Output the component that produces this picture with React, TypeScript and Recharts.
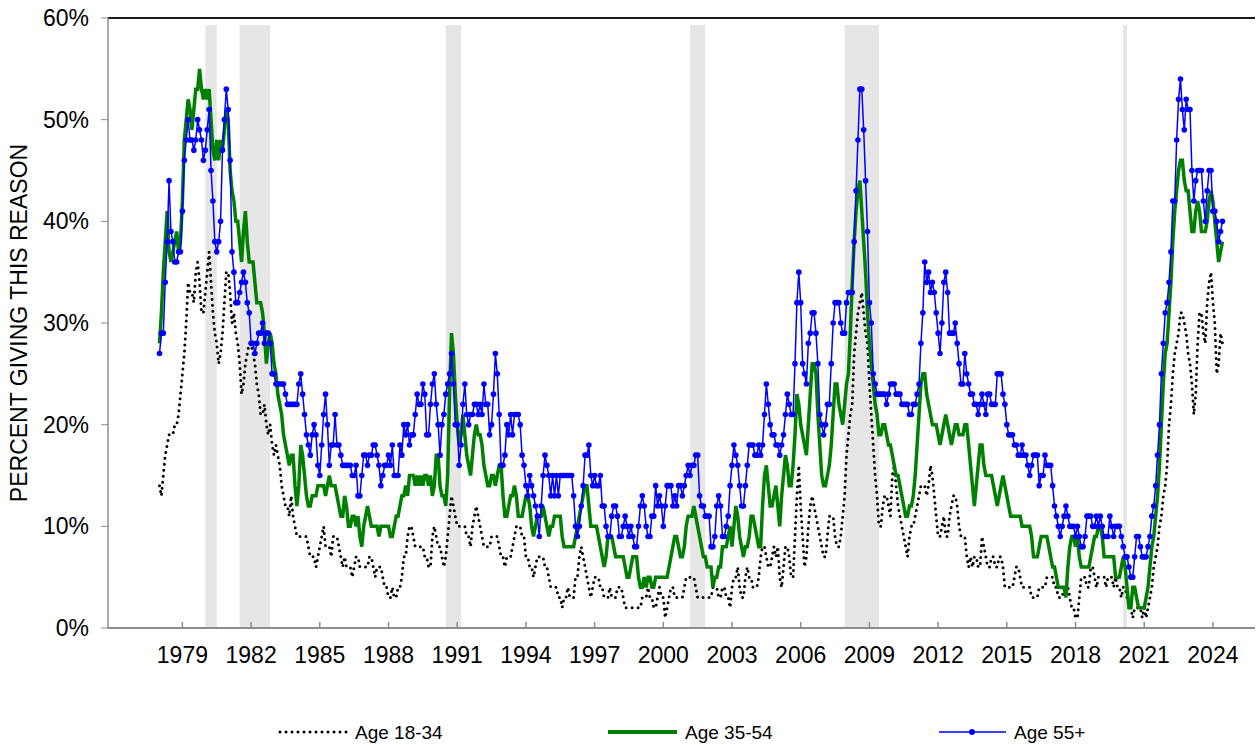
import { Line, LineChart, ReferenceArea, ReferenceLine, XAxis, YAxis } from "recharts";

const START_YEAR = 1978;
const YEAR_TICKS = [1979, 1982, 1985, 1988, 1991, 1994, 1997, 2000, 2003, 2006, 2009, 2012, 2015, 2018, 2021, 2024];
const PCT_TICKS = [0, 10, 20, 30, 40, 50, 60];
const RECESSIONS: [number, number][] = [
	[1980.0, 1980.5],
	[1981.5, 1982.83],
	[1990.5, 1991.17],
	[2001.17, 2001.83],
	[2007.92, 2009.42],
	[2020.08, 2020.25],
];

// one row per year, Jan..Dec (2024 ends in June)
const AGE_18_34: number[][] = [
	[14, 13, 15, 17, 18, 19, 19, 19, 20, 20, 21, 23],
	[25, 27, 30, 34, 33, 33, 32, 35, 36, 34, 31, 31],
	[33, 35, 37, 34, 31, 29, 28, 26, 27, 29, 32, 35],
	[35, 33, 30, 31, 29, 28, 26, 23, 24, 26, 27, 28],
	[28, 27, 26, 24, 23, 21, 21, 22, 20, 19, 20, 18],
	[17, 18, 17, 16, 14, 13, 12, 12, 11, 13, 11, 10],
	[9, 9, 9, 9, 9, 9, 8, 7, 7, 7, 6, 7],
	[8, 9, 10, 8, 8, 8, 7, 9, 9, 9, 8, 7],
	[6, 7, 6, 6, 6, 5, 6, 7, 7, 6, 6, 6],
	[6, 6, 7, 7, 6, 5, 6, 6, 6, 5, 4, 4],
	[3, 3, 4, 3, 3, 4, 4, 5, 7, 7, 9, 10],
	[10, 9, 8, 8, 8, 8, 8, 7, 7, 6, 6, 9],
	[10, 9, 8, 8, 7, 6, 7, 9, 11, 13, 12, 11],
	[10, 10, 10, 10, 10, 9, 9, 8, 10, 11, 12, 11],
	[10, 9, 8, 8, 8, 8, 9, 9, 9, 9, 8, 7],
	[7, 6, 7, 7, 7, 8, 9, 10, 10, 10, 9, 9],
	[7, 7, 6, 6, 5, 6, 7, 7, 7, 7, 6, 6],
	[5, 4, 4, 4, 4, 3, 3, 2, 3, 3, 4, 3],
	[3, 3, 5, 5, 7, 8, 7, 6, 5, 4, 3, 4],
	[5, 5, 5, 4, 4, 3, 3, 3, 4, 3, 3, 3],
	[4, 4, 4, 3, 2, 2, 2, 2, 2, 2, 2, 2],
	[2, 3, 3, 3, 4, 3, 3, 2, 2, 3, 4, 3],
	[3, 1, 2, 3, 4, 4, 3, 3, 3, 3, 3, 4],
	[5, 5, 5, 5, 5, 4, 3, 3, 3, 3, 3, 3],
	[3, 3, 4, 4, 4, 3, 3, 4, 4, 3, 3, 2],
	[4, 5, 5, 6, 4, 3, 3, 5, 6, 5, 5, 4],
	[4, 4, 5, 7, 8, 8, 7, 6, 6, 7, 8, 7],
	[8, 5, 4, 6, 8, 8, 7, 5, 5, 9, 13, 16],
	[12, 9, 6, 7, 10, 12, 13, 12, 11, 10, 9, 8],
	[7, 7, 9, 11, 11, 11, 9, 8, 8, 9, 11, 13],
	[17, 19, 21, 22, 27, 29, 31, 32, 33, 31, 29, 28],
	[24, 21, 18, 15, 13, 10, 10, 12, 13, 13, 12, 11],
	[15, 16, 14, 12, 11, 10, 9, 8, 7, 9, 10, 10],
	[11, 12, 13, 14, 14, 14, 13, 14, 16, 15, 13, 11],
	[9, 9, 10, 11, 9, 9, 11, 12, 13, 13, 12, 10],
	[9, 9, 9, 7, 6, 7, 6, 7, 7, 6, 6, 9],
	[8, 7, 6, 6, 7, 7, 6, 6, 7, 7, 6, 4],
	[4, 4, 4, 4, 5, 6, 6, 5, 4, 4, 4, 4],
	[4, 3, 3, 3, 3, 4, 4, 4, 4, 5, 5, 5],
	[5, 4, 4, 3, 3, 3, 4, 4, 4, 3, 2, 2],
	[1, 1, 3, 5, 5, 5, 4, 4, 6, 6, 5, 4],
	[5, 5, 5, 5, 4, 5, 5, 5, 4, 5, 4, 4],
	[3, 4, 4, 3, 3, 2, 1, 2, 2, 2, 2, 1],
	[2, 1, 2, 3, 4, 6, 7, 8, 10, 11, 13, 14],
	[16, 20, 22, 25, 27, 28, 29, 31, 31, 30, 29, 27],
	[26, 24, 21, 23, 28, 31, 31, 29, 28, 32, 34, 35],
	[32, 30, 25, 26, 29, 28],
];

const AGE_35_54: number[][] = [
	[28, 31, 35, 38, 41, 37, 36, 37, 38, 39, 37, 38],
	[42, 48, 50, 52, 51, 49, 51, 53, 53, 55, 53, 52],
	[53, 52, 53, 50, 47, 46, 48, 46, 48, 47, 49, 51],
	[50, 45, 43, 42, 40, 40, 38, 36, 39, 41, 38, 36],
	[36, 36, 34, 32, 32, 32, 31, 29, 26, 28, 29, 28],
	[26, 25, 23, 22, 21, 19, 18, 17, 16, 17, 17, 14],
	[12, 14, 18, 17, 15, 13, 12, 12, 13, 13, 13, 14],
	[14, 14, 14, 13, 14, 15, 14, 14, 14, 13, 12, 11],
	[11, 13, 12, 10, 10, 11, 11, 10, 11, 9, 8, 10],
	[11, 12, 11, 10, 10, 10, 10, 9, 10, 10, 10, 10],
	[10, 9, 9, 10, 11, 11, 12, 13, 13, 14, 13, 15],
	[15, 15, 14, 15, 14, 15, 14, 15, 15, 14, 15, 13],
	[14, 17, 17, 14, 13, 13, 12, 15, 23, 29, 27, 23],
	[20, 18, 19, 21, 19, 17, 16, 15, 17, 19, 20, 19],
	[19, 18, 16, 15, 14, 14, 15, 15, 14, 15, 16, 16],
	[13, 11, 11, 12, 13, 13, 14, 13, 11, 11, 11, 12],
	[13, 13, 12, 10, 9, 10, 11, 11, 11, 12, 11, 10],
	[9, 10, 10, 11, 11, 11, 11, 9, 8, 8, 8, 8],
	[8, 8, 9, 10, 11, 12, 13, 14, 14, 12, 10, 10],
	[10, 10, 9, 8, 7, 6, 7, 9, 9, 9, 8, 7],
	[7, 7, 7, 7, 6, 5, 5, 6, 7, 7, 7, 5],
	[4, 4, 5, 4, 5, 5, 4, 4, 5, 5, 5, 5],
	[5, 5, 5, 6, 7, 8, 9, 9, 8, 7, 7, 8],
	[10, 11, 11, 11, 12, 11, 10, 9, 8, 7, 7, 6],
	[6, 6, 4, 5, 5, 6, 6, 8, 8, 8, 9, 10],
	[8, 10, 12, 11, 9, 8, 7, 8, 8, 9, 11, 11],
	[10, 9, 8, 8, 12, 15, 16, 14, 12, 12, 13, 14],
	[12, 10, 13, 15, 17, 16, 14, 14, 16, 19, 23, 22],
	[20, 19, 18, 17, 20, 23, 26, 26, 25, 21, 18, 15],
	[14, 14, 15, 16, 18, 21, 24, 24, 22, 21, 20, 22],
	[24, 25, 29, 34, 38, 41, 43, 44, 41, 38, 35, 31],
	[28, 26, 24, 22, 21, 19, 19, 20, 20, 19, 18, 18],
	[17, 16, 15, 15, 14, 13, 12, 11, 11, 12, 12, 13],
	[15, 18, 21, 24, 25, 25, 23, 22, 21, 20, 20, 20],
	[19, 18, 19, 20, 21, 20, 19, 18, 19, 20, 20, 19],
	[19, 19, 20, 20, 18, 16, 14, 12, 14, 16, 18, 18],
	[16, 15, 15, 15, 15, 14, 13, 12, 13, 14, 15, 14],
	[13, 12, 11, 11, 11, 11, 11, 11, 10, 10, 10, 10],
	[10, 9, 7, 7, 7, 8, 9, 9, 9, 9, 8, 7],
	[6, 6, 5, 4, 4, 4, 4, 3, 6, 8, 9, 9],
	[8, 9, 7, 6, 6, 6, 6, 6, 7, 8, 9, 9],
	[10, 10, 9, 7, 7, 7, 7, 7, 7, 5, 5, 5],
	[6, 7, 6, 4, 2, 2, 4, 4, 3, 2, 2, 2],
	[2, 3, 4, 6, 8, 9, 11, 13, 16, 20, 24, 27],
	[28, 31, 34, 38, 41, 43, 45, 46, 46, 44, 43, 43],
	[41, 39, 39, 41, 42, 41, 39, 39, 39, 40, 42, 43],
	[42, 40, 38, 36, 37, 38],
];

const AGE_55_PLUS: number[][] = [
	[27, 29, 29, 34, 38, 44, 39, 38, 36, 36, 37, 37],
	[41, 46, 48, 50, 48, 48, 47, 48, 50, 49, 48, 46],
	[47, 49, 51, 45, 42, 38, 37, 38, 40, 47, 50, 53],
	[51, 46, 37, 35, 32, 32, 33, 34, 35, 34, 32, 31],
	[28, 28, 27, 28, 29, 29, 30, 28, 29, 29, 28, 25],
	[25, 24, 24, 24, 24, 24, 23, 22, 22, 22, 22, 22],
	[22, 24, 25, 23, 21, 19, 18, 17, 19, 20, 19, 16],
	[15, 18, 21, 23, 20, 16, 18, 18, 21, 18, 18, 17],
	[16, 16, 16, 16, 16, 15, 15, 16, 13, 13, 15, 17],
	[17, 16, 17, 17, 18, 18, 17, 16, 14, 15, 16, 16],
	[17, 16, 18, 15, 15, 15, 18, 17, 20, 19, 20, 18],
	[19, 19, 21, 23, 22, 22, 24, 23, 19, 19, 22, 24],
	[25, 22, 20, 17, 20, 21, 23, 24, 25, 27, 24, 20],
	[20, 16, 18, 22, 24, 21, 20, 21, 21, 22, 22, 21],
	[22, 21, 24, 22, 22, 19, 20, 23, 27, 25, 21, 16],
	[16, 17, 20, 19, 21, 19, 21, 21, 21, 20, 17, 16],
	[14, 13, 15, 14, 13, 12, 11, 9, 12, 15, 17, 16],
	[15, 13, 15, 13, 15, 13, 15, 15, 15, 15, 15, 15],
	[15, 13, 10, 9, 10, 12, 14, 17, 17, 18, 15, 14],
	[15, 14, 14, 15, 12, 12, 10, 9, 9, 11, 12, 12],
	[11, 9, 9, 10, 11, 10, 9, 10, 9, 8, 8, 10],
	[12, 13, 12, 10, 9, 9, 11, 11, 14, 12, 13, 12],
	[10, 12, 14, 14, 14, 12, 13, 12, 14, 14, 13, 14],
	[15, 16, 15, 16, 16, 17, 17, 13, 12, 12, 11, 11],
	[11, 8, 8, 9, 12, 13, 12, 9, 9, 10, 11, 14],
	[16, 18, 17, 16, 14, 12, 12, 14, 16, 18, 18, 18],
	[17, 17, 18, 17, 18, 21, 24, 22, 20, 19, 19, 18],
	[18, 17, 18, 19, 21, 23, 22, 21, 21, 26, 32, 35],
	[32, 26, 25, 24, 28, 29, 31, 31, 29, 26, 21, 20],
	[19, 20, 22, 22, 26, 30, 32, 32, 32, 30, 29, 29],
	[32, 33, 33, 33, 38, 43, 48, 53, 53, 49, 44, 39],
	[32, 30, 25, 24, 23, 23, 23, 23, 23, 22, 23, 24],
	[24, 24, 23, 23, 23, 22, 22, 22, 22, 21, 21, 22],
	[22, 23, 24, 28, 31, 36, 34, 35, 33, 34, 33, 31],
	[29, 27, 30, 34, 35, 33, 29, 29, 29, 30, 28, 26],
	[24, 24, 27, 25, 24, 23, 23, 22, 22, 21, 22, 23],
	[22, 21, 23, 23, 22, 22, 22, 25, 25, 25, 23, 22],
	[20, 19, 19, 19, 18, 18, 17, 17, 18, 17, 17, 16],
	[15, 16, 17, 17, 17, 14, 15, 15, 17, 16, 16, 16],
	[14, 12, 11, 10, 9, 10, 11, 12, 11, 10, 10, 10],
	[9, 10, 9, 8, 8, 9, 11, 11, 11, 10, 10, 11],
	[10, 11, 10, 9, 9, 9, 11, 10, 9, 10, 10, 10],
	[9, 8, 7, 7, 6, 5, 5, 7, 9, 9, 8, 7],
	[7, 7, 8, 9, 11, 12, 14, 17, 20, 25, 28, 31],
	[32, 34, 37, 42, 42, 48, 52, 54, 51, 49, 52, 51],
	[51, 45, 42, 44, 45, 45, 45, 42, 40, 43, 45, 45],
	[41, 41, 40, 38, 39, 40],
];

type Row = { t: number; young?: number; mid?: number; old?: number };

function buildRows(): Row[] {
	const rows = new Map<number, Row>();
	const put = (series: number[][], key: "young" | "mid" | "old") => {
		series.forEach((year, yi) => {
			year.forEach((v, mi) => {
				const k = yi * 12 + mi;
				if (!rows.has(k)) rows.set(k, { t: START_YEAR + k / 12 });
				rows.get(k)![key] = v;
			});
		});
	};
	put(AGE_18_34, "young");
	put(AGE_35_54, "mid");
	put(AGE_55_PLUS, "old");
	return [...rows.keys()].sort((a, b) => a - b).map((k) => rows.get(k)!);
}

const data = buildRows();

const AXIS_GRAY = "#8c8c8c";
const FONT = '"Liberation Sans", Arial, sans-serif';

function YearTick({ x, y, payload }: any) {
	return (
		<g>
			<line x1={x} x2={x} y1={y} y2={y - 6} stroke={AXIS_GRAY} strokeWidth={1.5} />
			<text x={x} y={y + 35} textAnchor="middle" fontSize={23} fill="#000">
				{payload.value}
			</text>
		</g>
	);
}

export default function App() {
	return (
		<div
			style={{
				position: "absolute",
				left: 0,
				top: 0,
				width: 1259,
				height: 745,
				background: "#fff",
				fontFamily: FONT,
			}}
		>
			<LineChart width={1259} height={745} data={data} margin={{ top: 18, right: 4, bottom: 0, left: 0 }}>
				{RECESSIONS.map(([a, b]) => (
					<ReferenceArea key={a} x1={a} x2={b} y1={0} y2={59.3} fill="#e6e6e6" fillOpacity={1} stroke="none" />
				))}
				<XAxis
					type="number"
					dataKey="t"
					domain={[1975.751, 2025.838]}
					ticks={YEAR_TICKS}
					interval={0}
					height={117}
					tickSize={0}
					tickMargin={0}
					tickLine={false}
					tick={<YearTick />}
					axisLine={{ stroke: AXIS_GRAY, strokeWidth: 2 }}
				/>
				<YAxis
					width={108}
					domain={[0, 60]}
					ticks={PCT_TICKS}
					tickFormatter={(v: number) => `${v}%`}
					tick={{ fontSize: 23, fill: "#000" }}
					tickSize={7}
					tickMargin={12}
					tickLine={{ stroke: AXIS_GRAY }}
					axisLine={{ stroke: AXIS_GRAY, strokeWidth: 1.5 }}
				/>
				<ReferenceLine y={60} stroke="#1a1a1a" strokeWidth={2} />
				<Line
					type="linear"
					dataKey="young"
					stroke="#000"
					strokeWidth={3}
					strokeDasharray="0 6"
					strokeLinecap="round"
					dot={false}
					isAnimationActive={false}
				/>
				<Line
					type="linear"
					dataKey="mid"
					stroke="#008000"
					strokeWidth={3.5}
					dot={false}
					isAnimationActive={false}
				/>
				<Line
					type="linear"
					dataKey="old"
					stroke="#0000ff"
					strokeWidth={1.5}
					dot={{ r: 2.8, fill: "#0000ff", stroke: "#0000ff", strokeWidth: 0 }}
					isAnimationActive={false}
				/>
			</LineChart>
			<svg
				width={1259}
				height={745}
				style={{ position: "absolute", left: 0, top: 0, pointerEvents: "none", fontFamily: FONT }}
			>
				<text
					transform="translate(19,323) rotate(-90)"
					textAnchor="middle"
					dominantBaseline="central"
					fontSize={23}
					fill="#000"
				>
					PERCENT GIVING THIS REASON
				</text>
				<line x1={280} x2={348} y1={732} y2={732} stroke="#000" strokeWidth={3} strokeDasharray="0 6" strokeLinecap="round" />
				<text x={355} y={732} dominantBaseline="central" fontSize={19} fill="#000">
					Age 18-34
				</text>
				<line x1={608} x2={677} y1={732} y2={732} stroke="#008000" strokeWidth={4} />
				<text x={685} y={732} dominantBaseline="central" fontSize={19} fill="#000">
					Age 35-54
				</text>
				<line x1={939} x2={1006} y1={732} y2={732} stroke="#0000ff" strokeWidth={1.5} />
				<circle cx={972} cy={732} r={3} fill="#0000ff" />
				<text x={1014} y={732} dominantBaseline="central" fontSize={19} fill="#000">
					Age 55+
				</text>
			</svg>
		</div>
	);
}
